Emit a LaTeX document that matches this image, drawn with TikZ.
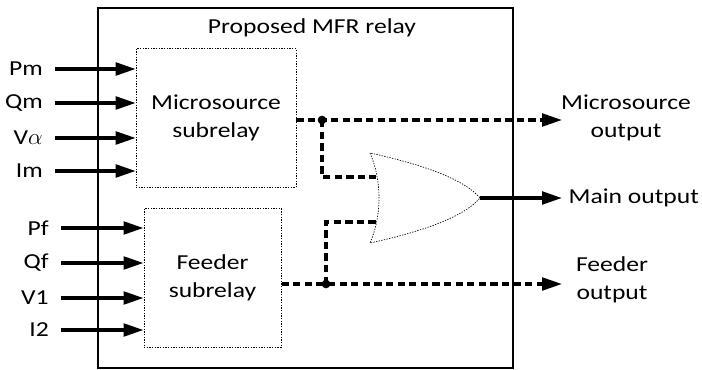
\documentclass[tikz,border=0pt]{standalone}
\usepackage{fontspec}
\setmainfont{Carlito}[FakeStretch=1.2]
\usetikzlibrary{arrows.meta,positioning}

\begin{document}
\begin{tikzpicture}[x=0.75pt, y=-0.75pt,
    font=\fontsize{16}{21}\selectfont,
    relaybox/.style={draw, line width=2.2pt},
    subbox/.style={draw, line width=0.5pt, dash pattern=on 1pt off 1pt, align=center},
    inlabel/.style={anchor=east, inner xsep=9pt},
    inarrow/.style={line width=2.5pt, -{Triangle[length=15pt, width=9.5pt]}},
    sigline/.style={line width=2.5pt, dash pattern=on 5.5pt off 3.2pt},
    gate/.style={draw, line width=0.5pt, dash pattern=on 1pt off 1pt},
    jdot/.style={circle, fill, inner sep=0pt, minimum size=6.5pt}]
    \useasboundingbox (0,0) rectangle (702,370);
    \draw [relaybox] (98,8) rectangle (513,368);
    \node (title) at (312,28) {Proposed MFR relay};

    % subrelays
    \node [subbox, minimum width=120pt, minimum height=104pt] (micro) at (216,118) {Microsource\\subrelay};
    \node [subbox, minimum width=103pt, minimum height=104pt] (feeder) at (212.5,278) {Feeder\\subrelay};

    % microsource inputs
    \node [inlabel] (pm) at (55,69) {Pm};
    \node [inlabel] (qm) at (55,103) {Qm};
    \node [inlabel] (va) at (55,138) {V$\alpha$};
    \node [inlabel] (im) at (55,171) {Im};
    \foreach \n in {pm,qm,va,im}
        \draw [inarrow] (\n.east) -- (\n.east -| micro.west);

    % feeder inputs
    \node [inlabel] (pf) at (61,228) {Pf};
    \node [inlabel] (qf) at (61,263) {Qf};
    \node [inlabel] (vf) at (61,298) {V1};
    \node [inlabel] (if) at (61,330) {I2};
    \foreach \n in {pf,qf,vf,if}
        \draw [inarrow] (\n.east) -- (\n.east -| feeder.west);

    % OR gate
    \coordinate (gtop) at (370,153);
    \coordinate (gbot) at (370,243);
    \coordinate (gout) at (480,198);
    \coordinate (in1) at (376,177);
    \coordinate (in2) at (376,222);
    \draw [gate] (gtop) .. controls (382,180) and (382,216) .. (gbot)
        .. controls (425,231) and (465,216) .. (gout)
        .. controls (465,180) and (425,165) .. (gtop);

    % outputs
    \coordinate (mtip) at (562,120);
    \coordinate (maintip) at (562,198);
    \coordinate (ftip) at (562,284);
    \node [jdot] (j1) at (322,120) {};
    \node [jdot] (j2) at (326,284) {};
    \draw [sigline, -{Triangle[length=15pt, width=9.5pt]}] (j1 -| micro.east) -- (mtip);
    \draw [sigline] (j1.center) |- (in1);
    \draw [sigline, -{Triangle[length=15pt, width=9.5pt]}] (j2 -| feeder.east) -- (ftip);
    \draw [sigline] (j2.center) |- (in2);
    \draw [inarrow] (gout) -- (maintip);

    \node [align=center] (mlabel) at (626,118) {Microsource\\output};
    \node [anchor=west] (mainlabel) at (564,198) {Main output};
    \node [align=center] (flabel) at (612,280) {Feeder\\output};
\end{tikzpicture}
\end{document}
